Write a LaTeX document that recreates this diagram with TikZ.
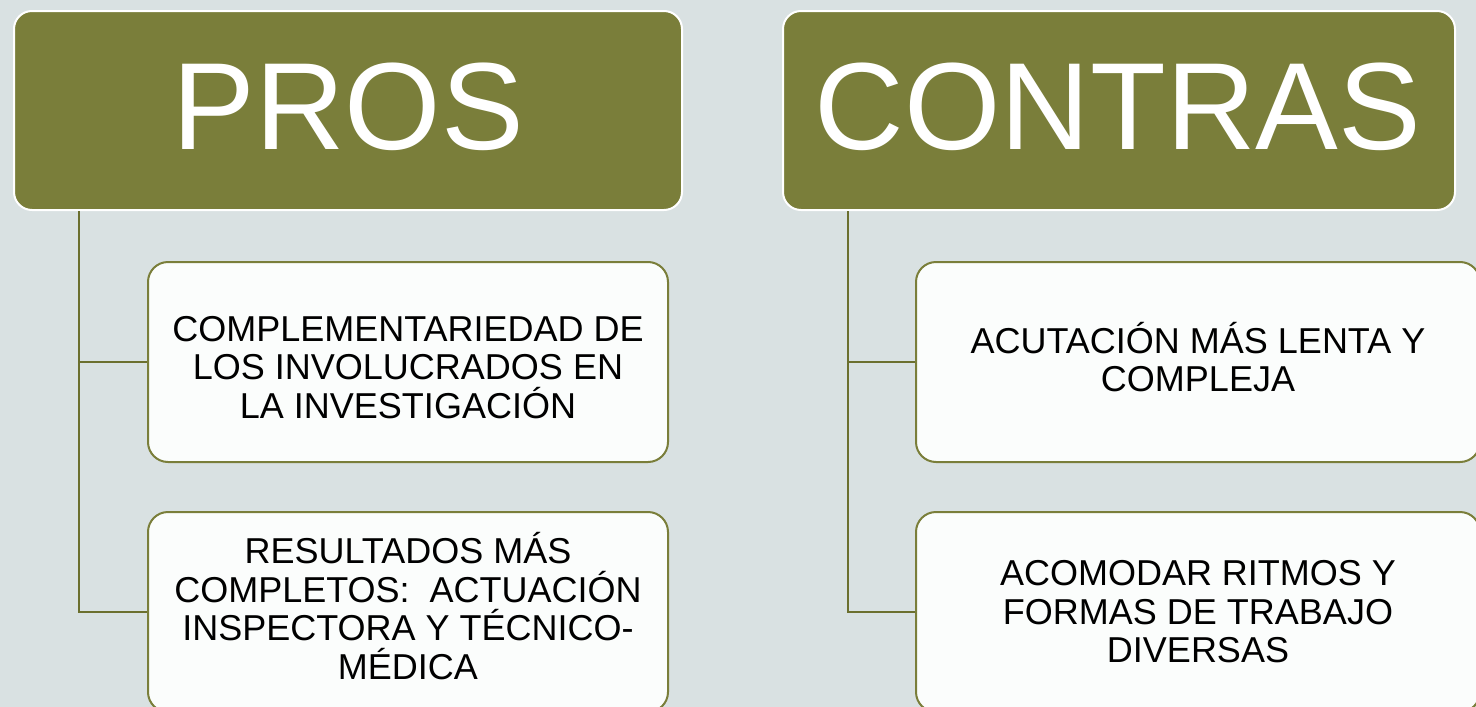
\documentclass[tikz,border=0pt]{standalone}
\usepackage{fontspec}
\setmainfont{Liberation Sans}
\definecolor{bgblue}{HTML}{D9E1E2}
\definecolor{olive}{HTML}{7A7E3A}
\definecolor{darkolive}{HTML}{6B6F2E}
\definecolor{paper}{HTML}{FBFDFC}
\tikzset{
  headbox/.style={draw=white, line width=2pt, fill=olive, rounded corners=18pt,
    minimum width=668pt, minimum height=199pt, inner sep=0pt},
  headtext/.style={anchor=base, text=white, inner sep=0pt,
    font=\fontsize{124}{124}\selectfont},
  itembox/.style={draw=olive, line width=2pt, fill=paper, rounded corners=20pt,
    minimum width=520pt, minimum height=200pt, align=center, inner sep=0pt,
    font=\fontsize{36}{38.5}\selectfont},
  branch/.style={draw=darkolive, line width=2.6pt}
}
\begin{document}
\begin{tikzpicture}[x=1pt, y=-1pt]
  \clip (0,0) rectangle (1476,707);
  \fill[bgblue] (0,0) rectangle (1476,707);
  % headers
  \node[headbox] (pros) at (348,110.5) {};
  \node[headtext] (prostext) at (348,149) {PROS};
  \node[headbox, minimum width=672pt] (contras) at (1119,110.5) {};
  \node[headtext] (contrastext) at (1118,149) {CONTRAS};
  % items
  \node[itembox] (pro1) at (408,362) {\rule{0pt}{36pt}COMPLEMENTARIEDAD DE\\LOS INVOLUCRADOS EN\\LA INVESTIGACIÓN};
  \node[itembox] (pro2) at (408,612) {RESULTADOS MÁS\\COMPLETOS:\ \ ACTUACIÓN\\INSPECTORA Y TÉCNICO-\\MÉDICA\rule[-12pt]{0pt}{0pt}};
  \node[itembox, minimum width=564pt] (con1) at (1198,362) {ACUTACIÓN MÁS LENTA Y\\COMPLEJA\rule[-10pt]{0pt}{0pt}};
  \node[itembox, minimum width=564pt] (con2) at (1198,612) {ACOMODAR RITMOS Y\\FORMAS DE TRABAJO\\DIVERSAS};
  % branches
  \coordinate (prosroot) at ([xshift=66pt]pros.south west);
  \coordinate (contrasroot) at ([xshift=66pt]contras.south west);
  \draw[branch] (prosroot) |- (pro1.west);
  \draw[branch] (prosroot) |- (pro2.west);
  \draw[branch] (contrasroot) |- (con1.west);
  \draw[branch] (contrasroot) |- (con2.west);
\end{tikzpicture}
\end{document}
